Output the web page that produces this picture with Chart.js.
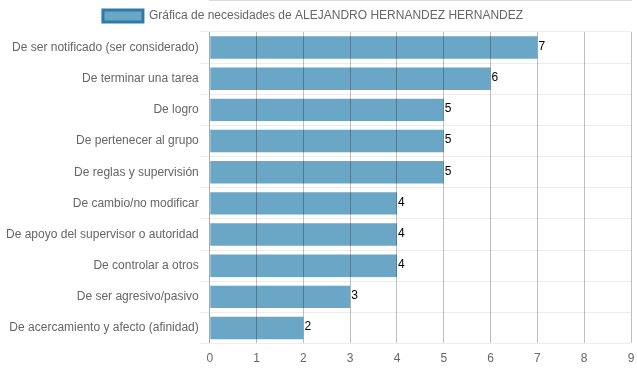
<!DOCTYPE html>
<html>
<head>
<meta charset="utf-8">
<script src="https://cdn.jsdelivr.net/npm/chart.js@4/dist/chart.umd.min.js"></script>
<style>
  html, body { margin: 0; padding: 0; background: #fff; }
  #wrap { width: 637px; height: 371px; }
</style>
</head>
<body>
<div id="wrap"><canvas id="necesidadesChart"></canvas></div>
<script>
// datos de la gráfica
const categorias = [
    'De ser notificado (ser considerado)',
    'De terminar una tarea',
    'De logro',
    'De pertenecer al grupo',
    'De reglas y supervisión',
    'De cambio/no modificar',
    'De apoyo del supervisor o autoridad',
    'De controlar a otros',
    'De ser agresivo/pasivo',
    'De acercamiento y afecto (afinidad)'
];
const valores = [7, 6, 5, 5, 5, 4, 4, 4, 3, 2];
const etiquetaSerie = 'Gráfica de necesidades de ALEJANDRO HERNANDEZ HERNANDEZ';
const ticksX = [0, 1, 2, 3, 4, 5, 6, 7, 8, 9];

Chart.defaults.font.family = "'Liberation Sans', Arial, sans-serif";
Chart.defaults.font.size = 12;
Chart.defaults.color = '#666';

// escribe el valor al final de cada barra
const valorBarras = {
    id: 'valorBarras',
    afterLayout(chart) {
        // la leyenda original queda un poco a la izquierda
        chart.legend.left -= 8;
        chart.legend.right -= 8;
    },
    afterDatasetsDraw(chart) {
        const c = chart.ctx;
        c.save();
        c.fillStyle = '#000';
        c.font = "12px 'Liberation Sans', Arial, sans-serif";
        c.textAlign = 'left';
        c.textBaseline = 'middle';
        chart.getDatasetMeta(0).data.forEach((bar, i) => {
            c.fillText(valores[i], bar.x + 1, bar.y - 1);
        });
        c.restore();
    }
};

const ctx = document.getElementById('necesidadesChart').getContext('2d');
const chart = new Chart(ctx, {
    type: 'bar',
    data: {
        labels: categorias,
        datasets: [{
            label: etiquetaSerie,
            data: valores,
            backgroundColor: '#6aa6c5',
            borderColor: '#2f7ba8',
            borderWidth: 0
        }]
    },
    options: {
        indexAxis: 'y',
        responsive: true,
        maintainAspectRatio: false,
        animation: false,
        layout: { padding: { left: 5, right: 0, bottom: -3 } },
        plugins: {
            legend: {
                display: true,
                labels: {
                    boxWidth: 40,
                    boxHeight: 12,
                    generateLabels(chart) {
                        const items = Chart.defaults.plugins.legend.labels.generateLabels(chart);
                        items.forEach(it => {
                            it.lineWidth = 3;
                            it.strokeStyle = '#2f7ba8';
                        });
                        return items;
                    }
                }
            },
            tooltip: { enabled: false }
        },
        scales: {
            x: {
                min: 0,
                max: 9,
                afterBuildTicks(scale) {
                    scale.ticks = ticksX.map(v => ({ value: v }));
                },
                afterFit(scale) {
                    scale.paddingRight = 6;
                },
                grid: {
                    color: 'rgba(0,0,0,0.25)',
                    drawTicks: false,
                    z: 1
                },
                border: { color: 'rgba(0,0,0,0.3)' },
                ticks: { padding: 8 }
            },
            y: {
                grid: {
                    color: 'rgba(0,0,0,0.07)',
                    tickLength: 10
                },
                border: { color: 'rgba(0,0,0,0.1)' },
                ticks: { padding: 1 }
            }
        }
    },
    plugins: [valorBarras]
});
</script>
</body>
</html>
